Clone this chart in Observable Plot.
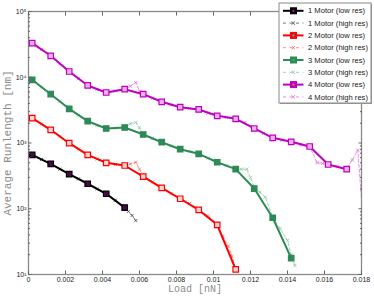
<!DOCTYPE html>
<html><head><meta charset="utf-8">
<script src="https://cdn.jsdelivr.net/npm/d3@7"></script>
<script src="https://cdn.jsdelivr.net/npm/@observablehq/plot@0.6"></script>
<style>
body{margin:0;background:#fff;}
#wrap{position:relative;width:374px;height:296px;}
#legend{position:absolute;left:0;top:0;}
</style></head><body><div id="wrap"></div>
<script>
// ---- data ----
const seriesNames = ["1 Motor","2 Motor","3 Motor","4 Motor"];
const lowColors = ["#000000","#ff0000","#2e8b57","#c000c0"];
const lowFills  = ["#4a0a4a","#ffd6d6","#2e8b57","#f0b0f0"];
const legendDots = ["#d000d0","#00d0d0","#20c040","#e08020"];
const highColors = ["#505050","#ff7070","#8cc4a4","#e070e0"];

const one_low_x = [0.0002,0.0012,0.0022,0.0032,0.0042,0.0052];
const one_low_y = [661,483,336,240,169,104];
const two_low_x = [0.0002,0.0012,0.0022,0.0032,0.0042,0.0052,0.0062,0.0072,0.0082,0.0092,0.0102,0.0112];
const two_low_y = [2384,1588,993,661,500,455,309,208,142,96,57,12];
const three_low_x = [0.0002,0.0012,0.0022,0.0032,0.0042,0.0052,0.0062,0.0072,0.0082,0.0092,0.0102,0.0112,0.0122,0.0132,0.0142];
const three_low_y = [9142,5525,3311,2146,1663,1721,1346,1028,805,685,510,400,203,73,17.7];
const four_low_x = [0.0002,0.0012,0.0022,0.0032,0.0042,0.0052,0.0062,0.0072,0.0082,0.0092,0.0102,0.0112,0.0122,0.0132,0.0142,0.0152,0.0162,0.0172];
const four_low_y = [32960,21200,12230,7500,5864,6580,5525,4234,3504,3236,2592,2334,1663,1199,1043,885,471,400];

const one_high_x = [0.0002,0.0007,0.0012,0.0017,0.0022,0.0027,0.0032,0.0037,0.0042,0.0047,0.0052,0.0054,0.0056,0.0058];
const one_high_y = [650,560,480,400,335,285,242,200,168,135,102,91,79,66];
const two_high_x = [0.0002,0.0007,0.0012,0.0017,0.0022,0.0027,0.0032,0.0037,0.0042,0.0047,0.0052,0.0055,0.0058,0.006,0.0062,0.0067,0.0072,0.0077,0.0082,0.0087,0.0092,0.0097,0.0102,0.0105,0.0108,0.011,0.0112];
const two_high_y = [2400,1950,1570,1250,1000,810,655,570,505,470,450,480,510,400,310,255,210,170,142,120,97,78,58,38,27,19,12];
const three_high_x = [0.0002,0.0007,0.0012,0.0017,0.0022,0.0027,0.0032,0.0037,0.0042,0.0047,0.0052,0.0055,0.0058,0.006,0.0062,0.0067,0.0072,0.0077,0.0082,0.0087,0.0092,0.0097,0.0102,0.0107,0.0112,0.0115,0.0118,0.012,0.0122,0.0125,0.0128,0.0132,0.0136,0.014,0.0142,0.0144];
const three_high_y = [9100,7100,5500,4300,3300,2650,2150,1850,1650,1680,1720,1960,2060,1700,1350,1180,1030,900,800,740,680,590,510,450,400,400,400,296,220,179,150,75,50,33,20,13.7];
const four_high_x = [0.0002,0.0007,0.0012,0.0017,0.0022,0.0027,0.0032,0.0037,0.0042,0.0047,0.0052,0.0055,0.0058,0.006,0.0062,0.0067,0.0072,0.0077,0.0082,0.0087,0.0092,0.0097,0.0102,0.0107,0.0112,0.0117,0.0122,0.0127,0.0132,0.0137,0.0142,0.0147,0.0152,0.0156,0.0159,0.0162,0.0167,0.0172,0.0175,0.0178,0.0181];
const four_high_y = [33000,26500,21000,16000,12200,9500,7500,6500,5900,6200,6600,7300,8300,6200,5500,4800,4200,3800,3500,3350,3200,2850,2600,2450,2330,2050,1680,1400,1200,1100,1040,930,880,500,490,470,440,410,550,780,60];

const xTicks = [0,0.002,0.004,0.006,0.008,0.01,0.012,0.014,0.016,0.018];
const yTicks = [10,100,1000,10000,100000];
const yTickLabels = ["10¹","10²","10³","10⁴","10⁵"];
const yMinor = [20,30,40,50,60,70,80,90,200,300,400,500,600,700,800,900,2000,3000,4000,5000,6000,7000,8000,9000,20000,30000,40000,50000,60000,70000,80000,90000];

// ---- build tables ----
const lowX = [one_low_x,two_low_x,three_low_x,four_low_x];
const lowY = [one_low_y,two_low_y,three_low_y,four_low_y];
const highX = [one_high_x,two_high_x,three_high_x,four_high_x];
const highY = [one_high_y,two_high_y,three_high_y,four_high_y];
const low = [], high = [];
seriesNames.forEach((s,i)=>{
  lowX[i].forEach((x,j)=>low.push({s:i,x,y:lowY[i][j]}));
  highX[i].forEach((x,j)=>high.push({s:i,x,y:highY[i][j]}));
});

const marks = [Plot.frame({stroke:"#8a8a8a", strokeWidth:1.3})];
// high-res (drawn first, underneath)
for (let i=0;i<4;i++){
  const d = high.filter(r=>r.s===i);
  marks.push(Plot.line(d,{x:"x",y:"y",stroke:highColors[i],strokeWidth:0.8,strokeDasharray:"3,2",clip:true}));
  marks.push(Plot.dot(d,{x:"x",y:"y",symbol:"times",r:1.6,stroke:highColors[i],strokeWidth:0.8,clip:true}));
}
for (let i=0;i<4;i++){
  const d = low.filter(r=>r.s===i);
  marks.push(Plot.line(d,{x:"x",y:"y",stroke:lowColors[i],strokeWidth:2,clip:true}));
  marks.push(Plot.dot(d,{x:"x",y:"y",symbol:"square",r:3.1,stroke:lowColors[i],strokeWidth:1.2,fill:lowFills[i],clip:true}));
}
// axes: inward ticks on all sides
marks.push(
  Plot.axisX(xTicks,{anchor:"bottom",tickSize:0,tickPadding:3,tickFormat:d=>d3.format("~g")(d),label:null,fontSize:7,fill:"#222"}),
  Plot.axisX(xTicks,{anchor:"bottom",tickSize:-3.5,tickFormat:()=>"",label:null,stroke:"#666"}),
  Plot.axisX(xTicks,{anchor:"top",tickSize:-3.5,tickFormat:()=>"",label:null,stroke:"#666"}),
  Plot.axisY(yTicks,{anchor:"left",tickSize:0,tickPadding:2,tickFormat:(d,i)=>yTickLabels[yTicks.indexOf(d)],label:null,fontSize:7,fill:"#222"}),
  Plot.axisY(yTicks,{anchor:"left",tickSize:-3.5,tickFormat:()=>"",label:null,stroke:"#666"}),
  Plot.axisY(yTicks,{anchor:"right",tickSize:-3.5,tickFormat:()=>"",label:null,stroke:"#666"}),
  Plot.axisY(yMinor,{anchor:"left",tickSize:-2,tickFormat:()=>"",label:null,stroke:"#666"}),
  Plot.axisY(yMinor,{anchor:"right",tickSize:-2,tickFormat:()=>"",label:null,stroke:"#666"}),
  Plot.text(["Average Runlength [nm]"],{frameAnchor:"left",dx:-21,rotate:-90,textAnchor:"middle",fontFamily:"'Liberation Mono','DejaVu Sans Mono',monospace",fontSize:11,fill:"#8c8c8c"}),
  Plot.text(["Load [nN]"],{frameAnchor:"bottom",dy:17,textAnchor:"middle",fontFamily:"'Liberation Mono','DejaVu Sans Mono',monospace",fontSize:10,fill:"#8c8c8c"})
);

const chart = Plot.plot({
  width:374,height:296,marginLeft:28,marginRight:13,marginTop:11,marginBottom:22,
  style:{background:"#fff",fontFamily:"'Liberation Sans',Arial,sans-serif",fontSize:"7px",color:"#222"},
  x:{domain:[0,0.018]},
  y:{type:"log",domain:[10,1e5]},
  marks
});
const wrap = document.getElementById("wrap");
wrap.appendChild(chart);

// ---- legend overlay ----
const L = d3.select(wrap).append("svg").attr("id","legend").attr("width",374).attr("height",296);
const bx=279, by=3, bw=92, bh=100;
L.append("rect").attr("x",bx+1).attr("y",by+1).attr("width",bw).attr("height",bh).attr("fill","#9a9a9a");
L.append("rect").attr("x",bx).attr("y",by).attr("width",bw).attr("height",bh).attr("fill","#fff").attr("stroke","#8a8a8a").attr("stroke-width",1);
const entries = [];
seriesNames.forEach((s,i)=>{
  entries.push({label:s+" (low res)",kind:"low",i});
  entries.push({label:s+" (high res)",kind:"high",i});
});
entries.forEach((e,k)=>{
  const cy = by+7.8+k*12.3;
  const g = L.append("g");
  if (e.kind==="low"){
    g.append("line").attr("x1",bx+4).attr("x2",bx+24.5).attr("y1",cy).attr("y2",cy).attr("stroke",lowColors[e.i]).attr("stroke-width",2);
    g.append("rect").attr("x",bx+11.5).attr("y",cy-3).attr("width",6).attr("height",6).attr("fill",lowColors[e.i]).attr("stroke",lowColors[e.i]);
    g.append("rect").attr("x",bx+13.5).attr("y",cy-1).attr("width",2).attr("height",2).attr("fill",legendDots[e.i]);
  } else {
    g.append("line").attr("x1",bx+4).attr("x2",bx+24.5).attr("y1",cy).attr("y2",cy).attr("stroke",highColors[e.i]).attr("stroke-width",0.8).attr("stroke-dasharray","3,3.5");
    g.append("path").attr("d",`M${bx+12.5},${cy-1.7}L${bx+16},${cy+1.7}M${bx+16},${cy-1.7}L${bx+12.5},${cy+1.7}`).attr("stroke",highColors[e.i]).attr("stroke-width",0.9);
  }
  g.append("text").attr("x",bx+29).attr("y",cy).attr("dy","0.35em").attr("font-family","'Liberation Sans',Arial,sans-serif").attr("font-size",7.6).attr("fill","#222").text(e.label);
});
</script></body></html>
